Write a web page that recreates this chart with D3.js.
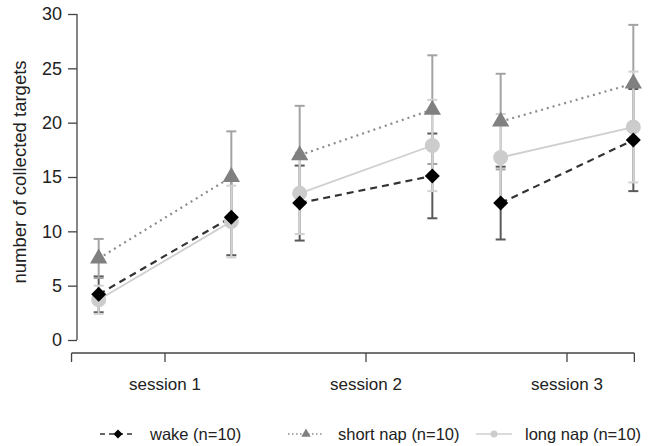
<!DOCTYPE html>
<html><head><meta charset="utf-8">
<script src="https://cdn.jsdelivr.net/npm/d3@7"></script>
<style>html,body{margin:0;padding:0;background:#fff;}svg{display:block;font-family:"Liberation Sans",Arial,Helvetica,sans-serif;}</style>
</head><body>
<script>
// ---- data ----
const sessions = ["session 1", "session 2", "session 3"];
const sessionPos = [1, 2, 3];
const timePos = [0.67, 1.33, 1.67, 2.33, 2.67, 3.33]; // pre/post measurement within each session
const yTicks = [0, 5, 10, 15, 20, 25, 30];
const seriesNames = ["wake (n=10)", "short nap (n=10)", "long nap (n=10)"];
const wake = [4.2, 11.3, 12.6, 15.1, 12.6, 18.4];
const wakeSD = [1.65, 3.5, 3.45, 3.9, 3.35, 4.7];
const shortNap = [7.5, 15.0, 17.0, 21.2, 20.1, 23.6];
const shortNapSD = [1.8, 4.2, 4.55, 5.0, 4.4, 5.4];
const longNap = [3.7, 10.9, 13.5, 17.9, 16.8, 19.6];
const longNapSD = [1.3, 3.3, 3.75, 4.2, 4.0, 5.1];

const W = 653, H = 446;
const svg = d3.select("body").append("svg").attr("width", W).attr("height", H);

const x = d3.scaleLinear().domain([1, 3]).range([165, 567]);
const y = d3.scaleLinear().domain([0, 30]).range([340, 14]);
const xAxisDomain = [0.535, 3.335];

const styles = [
  {name: seriesNames[0], vals: wake, sd: wakeSD, line: "#333", dash: "7,5", bar: "#5a5a5a", fill: "#000", shape: "diamond"},
  {name: seriesNames[1], vals: shortNap, sd: shortNapSD, line: "#8c8c8c", dash: "2,4", bar: "#a3a3a3", fill: "#808080", shape: "triangle"},
  {name: seriesNames[2], vals: longNap, sd: longNapSD, line: "#cfcfcf", dash: null, bar: "#d2d2d2", fill: "#cccccc", shape: "circle"}
];

function shapePath(shape, s) {
  if (shape === "diamond") return `M0,${-s}L${s},0L0,${s}L${-s},0Z`;
  if (shape === "triangle") return `M0,${-s}L${0.866*s},${s/2}L${-0.866*s},${s/2}Z`;
  return d3.path().toString();
}

// y axis
const yAxis = svg.append("g").attr("transform", "translate(77,0)")
  .call(d3.axisLeft(y).tickValues(yTicks).tickSize(9).tickPadding(6));
yAxis.select(".domain").attr("stroke", "#444").attr("stroke-width", 1.3).attr("d", `M-0,${y(0)}V${y(30)}`);
yAxis.selectAll(".tick line").attr("stroke", "#444").attr("stroke-width", 1.3);
yAxis.selectAll(".tick text").attr("font-size", 18).attr("fill", "#222").attr("font-family", "Liberation Sans, Arial, sans-serif");

svg.append("text").attr("transform", `translate(19,172) rotate(-90)`)
  .attr("text-anchor", "middle").attr("dominant-baseline", "central")
  .attr("font-size", 18.5).attr("fill", "#222").text("number of collected targets");

// x axis
const xg = svg.append("g").attr("transform", "translate(0,353)");
xg.append("line").attr("x1", x(xAxisDomain[0])).attr("x2", x(xAxisDomain[1]))
  .attr("stroke", "#444").attr("stroke-width", 1.3);
[xAxisDomain[0], ...sessionPos, xAxisDomain[1]].forEach(v => {
  xg.append("line").attr("x1", x(v)).attr("x2", x(v)).attr("y1", 0).attr("y2", 9)
    .attr("stroke", "#444").attr("stroke-width", 1.3);
});
sessions.forEach((s, i) => {
  xg.append("text").attr("x", x(sessionPos[i])).attr("y", 31).attr("text-anchor", "middle")
    .attr("dominant-baseline", "central").attr("font-size", 17).attr("fill", "#222").text(s);
});

// error bars (wake, short, long order)
styles.forEach(st => {
  const g = svg.append("g");
  st.vals.forEach((v, i) => {
    const cx = x(timePos[i]);
    const lo = y(v - st.sd[i]), hi = y(v + st.sd[i]);
    g.append("line").attr("x1", cx).attr("x2", cx).attr("y1", lo).attr("y2", hi)
      .attr("stroke", st.bar).attr("stroke-width", 2);
    [lo, hi].forEach(yy => g.append("line").attr("x1", cx - 5).attr("x2", cx + 5).attr("y1", yy).attr("y2", yy)
      .attr("stroke", st.bar).attr("stroke-width", 2));
  });
});

// lines: per session pre->post
const lineGen = d3.line().x(d => x(d[0])).y(d => y(d[1]));
styles.forEach(st => {
  for (let k = 0; k < 3; k++) {
    const pts = [[timePos[2*k], st.vals[2*k]], [timePos[2*k+1], st.vals[2*k+1]]];
    const p = svg.append("path").attr("d", lineGen(pts)).attr("fill", "none")
      .attr("stroke", st.line).attr("stroke-width", st.shape === "circle" ? 1.8 : 2.2);
    if (st.dash) p.attr("stroke-dasharray", st.dash);
  }
});

// markers
styles.slice().reverse().forEach(st => {
  st.vals.forEach((v, i) => {
    const cx = x(timePos[i]), cy = y(v);
    if (st.shape === "circle") {
      svg.append("circle").attr("cx", cx).attr("cy", cy).attr("r", 7.5).attr("fill", st.fill);
    } else {
      svg.append("path").attr("transform", `translate(${cx},${cy})`)
        .attr("d", shapePath(st.shape, st.shape === "diamond" ? 7.5 : 10)).attr("fill", st.fill);
    }
  });
});

// legend
const legendX = [100, 288, 476];
const legendTextX = [150, 338, 525];
const ly = 434;
styles.forEach((st, i) => {
  const g = svg.append("g");
  const l = g.append("line").attr("x1", legendX[i]).attr("x2", legendX[i] + 36).attr("y1", ly).attr("y2", ly)
    .attr("stroke", st.line).attr("stroke-width", 1.6);
  if (st.dash) l.attr("stroke-dasharray", st.shape === "diamond" ? "5,4" : "1.5,2.5");
  const cx = legendX[i] + 18;
  if (st.shape === "circle") g.append("circle").attr("cx", cx).attr("cy", ly).attr("r", 3.5).attr("fill", st.fill);
  else g.append("path").attr("transform", `translate(${cx},${ly})`)
    .attr("d", shapePath(st.shape, st.shape === "diamond" ? 4.5 : 5.5)).attr("fill", st.fill);
  g.append("text").attr("x", legendTextX[i]).attr("y", ly).attr("dominant-baseline", "central")
    .attr("font-size", 16.5).attr("fill", "#222").text(st.name);
});
</script>
</body></html>
